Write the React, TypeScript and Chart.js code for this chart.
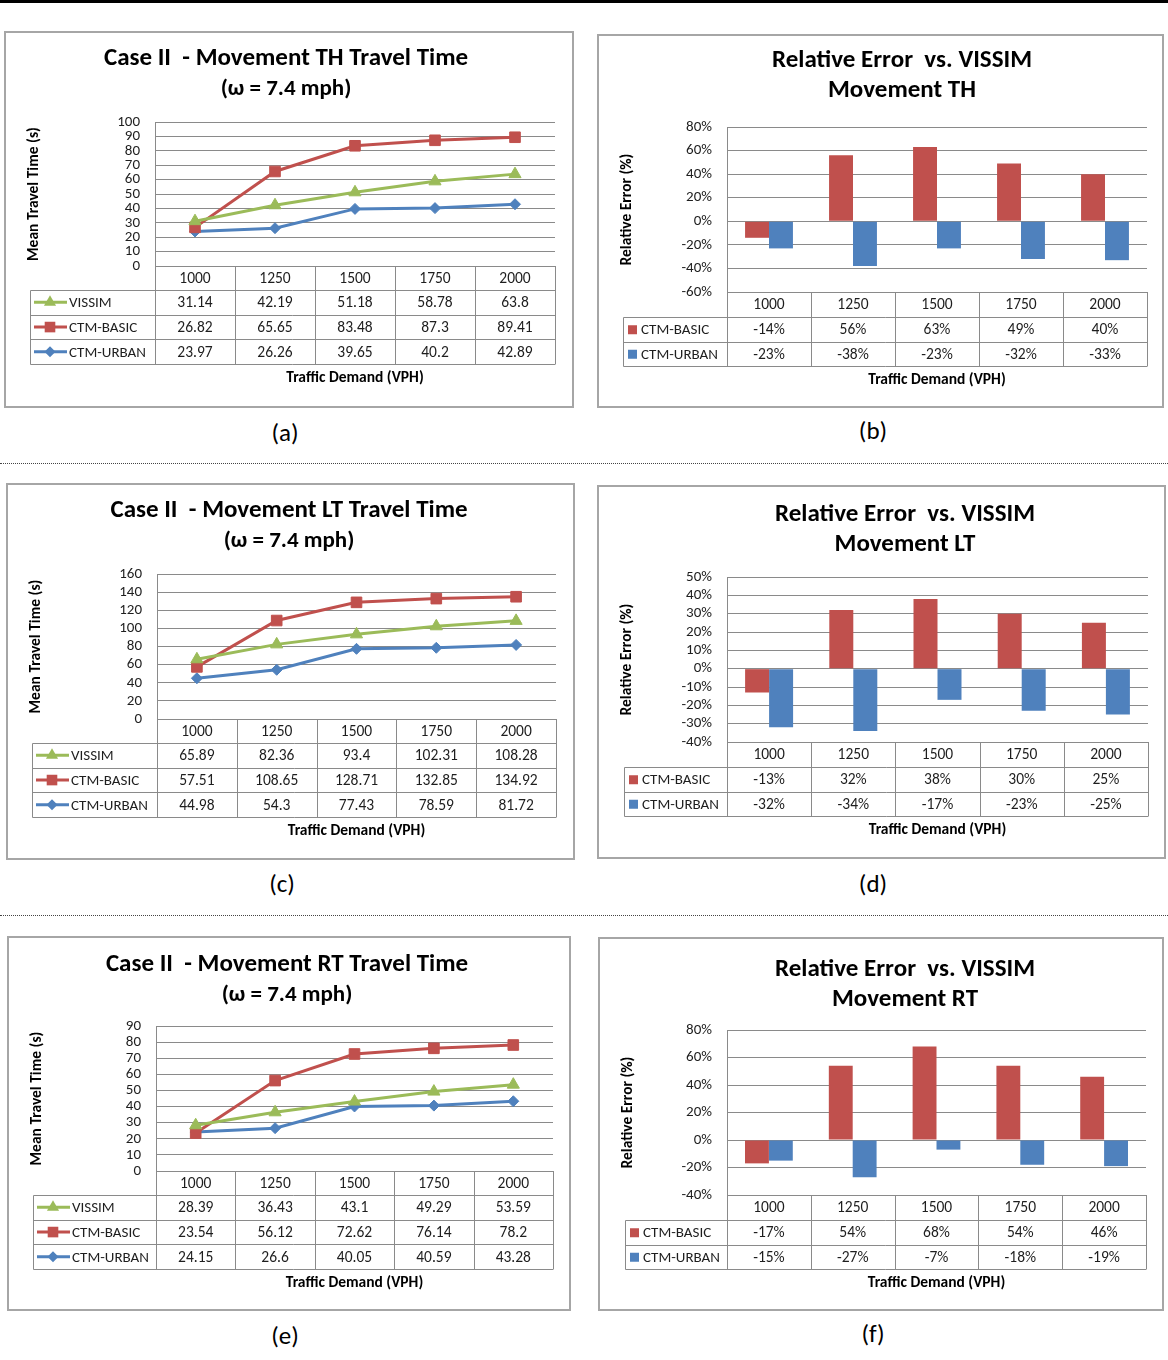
import React, { useEffect, useRef } from "react";
import { Chart, registerables } from "chart.js";
Chart.register(...registerables);

const FONT = "Carlito, Lato, 'Open Sans', sans-serif";
const GREEN = "#9BBB59";
const RED = "#C0504D";
const BLUE = "#4F81BD";
const GRID = "#8A8A8A";
const TEXT = "#1E1E1E";

// ---------- data ----------
const demand = ["1000", "1250", "1500", "1750", "2000"];

const thVissim = [31.14, 42.19, 51.18, 58.78, 63.8];
const thBasic = [26.82, 65.65, 83.48, 87.3, 89.41];
const thUrban = [23.97, 26.26, 39.65, 40.2, 42.89];

const ltVissim = [65.89, 82.36, 93.4, 102.31, 108.28];
const ltBasic = [57.51, 108.65, 128.71, 132.85, 134.92];
const ltUrban = [44.98, 54.3, 77.43, 78.59, 81.72];

const rtVissim = [28.39, 36.43, 43.1, 49.29, 53.59];
const rtBasic = [23.54, 56.12, 72.62, 76.14, 78.2];
const rtUrban = [24.15, 26.6, 40.05, 40.59, 43.28];

const thErrBasic = [-14, 56, 63, 49, 40];
const thErrUrban = [-23, -38, -23, -32, -33];
const ltErrBasic = [-13, 32, 38, 30, 25];
const ltErrUrban = [-32, -34, -17, -23, -25];
const rtErrBasic = [-17, 54, 68, 54, 46];
const rtErrUrban = [-15, -27, -7, -18, -19];

// ---------- panel specs ----------
type Series = { label: string; data: number[]; color: string; style?: string; radius?: number };
type Spec = {
  kind: "line" | "bar";
  box: { x: number; y: number; w: number; h: number };
  plot: { l: number; t: number; r: number; b: number };
  title: string[];
  titleSizes: number[];
  titleCx: number;
  titleY: number[];
  yMin: number;
  yMax: number;
  yStep: number;
  yTitle: string;
  series: Series[];
  headerH: number;
  rowH: number;
  tableLeft: number;
  caption: string;
  capX: number;
  capY: number;
};

const lineSeries = (v: number[], b: number[], u: number[]): Series[] => [
  { label: "VISSIM", data: v, color: GREEN, style: "triangle", radius: 7 },
  { label: "CTM-BASIC", data: b, color: RED, style: "rect", radius: 7.5 },
  { label: "CTM-URBAN", data: u, color: BLUE, style: "rectRot", radius: 5.5 },
];
const barSeries = (b: number[], u: number[]): Series[] => [
  { label: "CTM-BASIC", data: b, color: RED },
  { label: "CTM-URBAN", data: u, color: BLUE },
];

const specs: Spec[] = [
  {
    kind: "line",
    box: { x: 4, y: 31, w: 570, h: 377 },
    plot: { l: 155, t: 122, r: 555, b: 266 },
    title: ["Case II  - Movement TH Travel Time", "(ω = 7.4 mph)"],
    titleSizes: [25, 23],
    titleCx: 282, titleY: [28, 58],
    yMin: 0, yMax: 100, yStep: 10, yTitle: "Mean Travel Time (s)",
    series: lineSeries(thVissim, thBasic, thUrban),
    headerH: 24, rowH: 24.7, tableLeft: 30,
    caption: "(a)", capX: 285, capY: 432,
  },
  {
    kind: "bar",
    box: { x: 597, y: 34, w: 567, h: 374 },
    plot: { l: 727, t: 127, r: 1147, b: 292 },
    title: ["Relative Error  vs. VISSIM", "Movement TH"],
    titleSizes: [25, 25],
    titleCx: 305, titleY: [27, 57],
    yMin: -60, yMax: 80, yStep: 20, yTitle: "Relative Error (%)",
    series: barSeries(thErrBasic, thErrUrban),
    headerH: 25, rowH: 24.5, tableLeft: 623,
    caption: "(b)", capX: 873, capY: 430,
  },
  {
    kind: "line",
    box: { x: 6, y: 483, w: 569, h: 377 },
    plot: { l: 157, t: 574, r: 556, b: 719 },
    title: ["Case II  - Movement LT Travel Time", "(ω = 7.4 mph)"],
    titleSizes: [25, 23],
    titleCx: 283, titleY: [28, 58],
    yMin: 0, yMax: 160, yStep: 20, yTitle: "Mean Travel Time (s)",
    series: lineSeries(ltVissim, ltBasic, ltUrban),
    headerH: 24, rowH: 24.7, tableLeft: 32,
    caption: "(c)", capX: 282, capY: 883,
  },
  {
    kind: "bar",
    box: { x: 597, y: 485, w: 569, h: 374 },
    plot: { l: 727, t: 577, r: 1148, b: 742 },
    title: ["Relative Error  vs. VISSIM", "Movement LT"],
    titleSizes: [25, 25],
    titleCx: 308, titleY: [30, 60],
    yMin: -40, yMax: 50, yStep: 10, yTitle: "Relative Error (%)",
    series: barSeries(ltErrBasic, ltErrUrban),
    headerH: 25, rowH: 24.5, tableLeft: 624,
    caption: "(d)", capX: 873, capY: 883,
  },
  {
    kind: "line",
    box: { x: 7, y: 936, w: 564, h: 375 },
    plot: { l: 156, t: 1026, r: 553, b: 1171 },
    title: ["Case II  - Movement RT Travel Time", "(ω = 7.4 mph)"],
    titleSizes: [25, 23],
    titleCx: 280, titleY: [29, 59],
    yMin: 0, yMax: 90, yStep: 10, yTitle: "Mean Travel Time (s)",
    series: lineSeries(rtVissim, rtBasic, rtUrban),
    headerH: 24, rowH: 24.7, tableLeft: 33,
    caption: "(e)", capX: 285, capY: 1335,
  },
  {
    kind: "bar",
    box: { x: 598, y: 937, w: 566, h: 374 },
    plot: { l: 727, t: 1030, r: 1146, b: 1195 },
    title: ["Relative Error  vs. VISSIM", "Movement RT"],
    titleSizes: [25, 25],
    titleCx: 307, titleY: [33, 63],
    yMin: -40, yMax: 80, yStep: 20, yTitle: "Relative Error (%)",
    series: barSeries(rtErrBasic, rtErrUrban),
    headerH: 25, rowH: 24.5, tableLeft: 625,
    caption: "(f)", capX: 873, capY: 1333,
  },
];

// ---------- drawing helpers ----------
function drawMarker(ctx: CanvasRenderingContext2D, style: string, r: number, x: number, y: number, color: string) {
  ctx.save();
  ctx.fillStyle = color;
  ctx.beginPath();
  if (style === "triangle") {
    ctx.moveTo(x, y - r);
    ctx.lineTo(x + r * 0.866, y + r * 0.5);
    ctx.lineTo(x - r * 0.866, y + r * 0.5);
    ctx.closePath();
  } else if (style === "rect") {
    const s = r * Math.SQRT1_2;
    ctx.rect(x - s, y - s, 2 * s, 2 * s);
  } else {
    ctx.moveTo(x, y - r);
    ctx.lineTo(x + r, y);
    ctx.lineTo(x, y + r);
    ctx.lineTo(x - r, y);
    ctx.closePath();
  }
  ctx.fill();
  ctx.restore();
}

function tablePlugin(s: Spec) {
  return {
    id: "excelTable",
    afterDraw(chart: any) {
      const ctx: CanvasRenderingContext2D = chart.ctx;
      const ca = chart.chartArea;
      const xs = chart.scales.x;
      const n = demand.length;
      const colW = (ca.right - ca.left) / n;
      const tl = s.tableLeft - s.box.x;
      const top = ca.bottom;
      const rowsTop = top + s.headerH;
      const nRows = s.series.length;
      const bottom = rowsTop + nRows * s.rowH;
      const px = (v: number) => Math.round(v) + 0.5;

      ctx.save();
      // table grid
      ctx.strokeStyle = GRID;
      ctx.lineWidth = 1;
      ctx.beginPath();
      ctx.moveTo(ca.left, px(top));
      ctx.lineTo(ca.right, px(top));
      for (let i = 0; i <= n; i++) {
        const x = px(ca.left + i * colW);
        ctx.moveTo(x, top);
        ctx.lineTo(x, px(bottom));
      }
      for (let k = 0; k <= nRows; k++) {
        const y = px(rowsTop + k * s.rowH);
        ctx.moveTo(px(tl), y);
        ctx.lineTo(ca.right, y);
      }
      ctx.moveTo(px(tl), px(rowsTop));
      ctx.lineTo(px(tl), px(bottom));
      ctx.stroke();

      // header labels
      ctx.fillStyle = TEXT;
      ctx.font = `15.5px ${FONT}`;
      ctx.textAlign = "center";
      ctx.textBaseline = "middle";
      demand.forEach((d, i) => ctx.fillText(d, xs.getPixelForValue(i), top + s.headerH / 2 + 1));

      // rows
      s.series.forEach((se, k) => {
        const cy = rowsTop + k * s.rowH + s.rowH / 2 + 1;
        ctx.fillStyle = TEXT;
        ctx.font = `15.5px ${FONT}`;
        ctx.textAlign = "center";
        se.data.forEach((v, i) =>
          ctx.fillText(s.kind === "bar" ? `${v}%` : String(v), xs.getPixelForValue(i), cy)
        );
        let textX: number;
        if (s.kind === "line") {
          ctx.strokeStyle = se.color;
          ctx.lineWidth = 3;
          ctx.beginPath();
          ctx.moveTo(tl + 4, cy - 1);
          ctx.lineTo(tl + 37, cy - 1);
          ctx.stroke();
          drawMarker(ctx, se.style || "rect", se.radius || 6, tl + 20, cy - 1, se.color);
          textX = tl + 39;
        } else {
          ctx.fillStyle = se.color;
          ctx.fillRect(tl + 5, cy - 5, 9, 9);
          textX = tl + 18;
        }
        ctx.fillStyle = TEXT;
        ctx.font = `15px ${FONT}`;
        ctx.textAlign = "left";
        ctx.fillText(se.label, textX, cy);
      });

      // x-axis title
      ctx.fillStyle = "#000";
      ctx.font = `bold 15.5px ${FONT}`;
      ctx.textAlign = "center";
      ctx.fillText("Traffic Demand (VPH)", (ca.left + ca.right) / 2, bottom + 14);

      // y-axis title
      ctx.save();
      ctx.translate(30, (ca.top + ca.bottom) / 2);
      ctx.rotate(-Math.PI / 2);
      ctx.font = `bold 15.5px ${FONT}`;
      ctx.fillText(s.yTitle, 0, 0);
      ctx.restore();

      // chart title
      ctx.fillStyle = "#000";
      s.title.forEach((t, i) => {
        ctx.font = `bold ${s.titleSizes[i]}px ${FONT}`;
        ctx.fillText(t, s.titleCx, s.titleY[i]);
      });

      // panel border
      ctx.strokeStyle = "#A6A6A6";
      ctx.lineWidth = 2;
      ctx.strokeRect(1, 1, s.box.w - 2, s.box.h - 2);
      ctx.restore();
    },
  };
}

function buildConfig(s: Spec): any {
  const padTop = s.plot.t - s.box.y;
  const padRight = s.box.x + s.box.w - s.plot.r;
  const yWidth = s.plot.l - s.box.x;
  const xHeight = s.box.y + s.box.h - s.plot.b;
  const pct = s.kind === "bar";
  const datasets = s.series.map((se) =>
    s.kind === "line"
      ? {
          type: "line",
          label: se.label,
          data: se.data,
          borderColor: se.color,
          backgroundColor: se.color,
          borderWidth: 3,
          pointStyle: se.style,
          pointRadius: se.radius,
          pointBackgroundColor: se.color,
          pointBorderColor: se.color,
          pointBorderWidth: 1,
          tension: 0,
          fill: false,
        }
      : {
          type: "bar",
          label: se.label,
          data: se.data,
          backgroundColor: se.color,
          borderWidth: 0,
          categoryPercentage: 0.57,
          barPercentage: 1,
        }
  );
  return {
    type: s.kind,
    data: { labels: demand, datasets },
    options: {
      responsive: false,
      animation: false,
      devicePixelRatio: 1,
      layout: { padding: { left: 0, top: padTop, right: padRight, bottom: 0 } },
      plugins: { legend: { display: false }, tooltip: { enabled: false }, title: { display: false } },
      scales: {
        x: {
          type: "category",
          offset: true,
          grid: { display: false },
          border: { display: false },
          ticks: { display: false },
          afterFit: (sc: any) => {
            sc.height = xHeight;
          },
        },
        y: {
          min: s.yMin,
          max: s.yMax,
          ticks: {
            stepSize: s.yStep,
            autoSkip: false,
            padding: 15,
            color: TEXT,
            font: { family: FONT, size: 15, lineHeight: 1 },
            callback: (v: any) => (pct ? `${v}%` : `${v}`),
          },
          grid: { color: GRID, lineWidth: 1, drawTicks: false },
          border: { display: true, color: GRID, width: 1 },
          afterFit: (sc: any) => {
            sc.width = yWidth;
          },
        },
      },
    },
    plugins: [tablePlugin(s)],
  };
}

function Panel({ spec }: { spec: Spec }) {
  const ref = useRef<HTMLCanvasElement>(null);
  useEffect(() => {
    const chart = new Chart(ref.current as HTMLCanvasElement, buildConfig(spec));
    return () => chart.destroy();
  }, [spec]);
  return (
    <>
      <canvas
        ref={ref}
        width={spec.box.w}
        height={spec.box.h}
        style={{ position: "absolute", left: spec.box.x, top: spec.box.y, width: spec.box.w, height: spec.box.h }}
      />
      <div
        style={{
          position: "absolute",
          left: spec.capX,
          top: spec.capY,
          transform: "translate(-50%, -50%)",
          font: `25px ${FONT}`,
          lineHeight: 1,
          color: "#000",
          whiteSpace: "nowrap",
        }}
      >
        {spec.caption}
      </div>
    </>
  );
}

export default function App() {
  return (
    <div style={{ position: "absolute", left: 0, top: 0, width: 1168, height: 1360, background: "#fff", overflow: "hidden" }}>
      <div style={{ position: "absolute", left: 0, top: 0, width: 1168, height: 3, background: "#000" }} />
      <div style={{ position: "absolute", left: 0, top: 463, width: 1168, height: 0, borderTop: "1px dotted #444" }} />
      <div style={{ position: "absolute", left: 0, top: 915, width: 1168, height: 0, borderTop: "1px dotted #444" }} />
      {specs.map((s) => (
        <Panel key={s.caption} spec={s} />
      ))}
    </div>
  );
}
